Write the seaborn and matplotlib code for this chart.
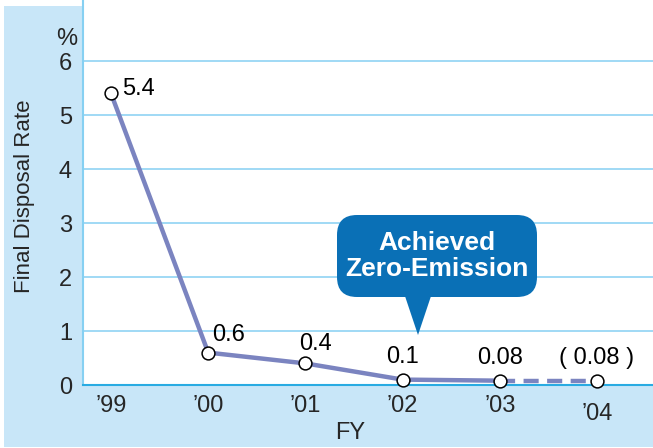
import matplotlib
matplotlib.use("Agg")
import matplotlib.pyplot as plt
import seaborn as sns
import pandas as pd
from matplotlib.patches import FancyBboxPatch, Polygon, Rectangle
from matplotlib.transforms import blended_transform_factory

# Fiscal-year final disposal rate (%)
years = ["\u201999", "\u201900", "\u201901", "\u201902", "\u201903", "\u201904"]
rates = [5.4, 0.6, 0.4, 0.1, 0.08, 0.08]
value_labels = ["5.4", "0.6", "0.4", "0.1", "0.08", "( 0.08 )"]
yticks = [0, 1, 2, 3, 4, 5, 6]

df = pd.DataFrame({"pos": range(len(years)), "year": years, "rate": rates})
actual = df.iloc[:5]
planned = df.iloc[4:]

sns.set_theme(style="white")
plt.rcParams["font.family"] = ["Liberation Sans", "DejaVu Sans"]

PANEL = "#C8E6F8"
GRID = "#86D0F2"
AXIS = "#29ABE2"
LINE = "#7B84C0"
CALLOUT = "#0A70B6"
FS = 16
NUM_FS = 17

fig = plt.figure(figsize=(6.53, 4.48), dpi=100)
fig.patch.set_facecolor("white")
# light-blue backing panel behind the axes labels
fig.patches.append(Rectangle((4 / 653, 1 / 448), 1 - 4 / 653, 441 / 448,
                             transform=fig.transFigure, facecolor=PANEL,
                             edgecolor="none", zorder=-10))

ax = fig.add_axes([83 / 653, 63 / 448, 570 / 653, 385 / 448])
ax.set_zorder(2)
ax.set_facecolor("white")

ax.set_xlim(-0.288, 5.576)
ax.set_ylim(0, 7.13)

for v in yticks[1:]:
    ax.axhline(v, color=GRID, lw=1.1, zorder=1)

sns.lineplot(data=actual, x="pos", y="rate", ax=ax, color=LINE, lw=3.2,
             zorder=3, legend=False)
sns.lineplot(data=planned, x="pos", y="rate", ax=ax, color=LINE, lw=3.2,
             zorder=3, legend=False, dashes=False, linestyle=(0, (3.4, 1.9)))
sns.scatterplot(data=df, x="pos", y="rate", ax=ax, s=85, color="white",
                edgecolor="black", linewidth=1.1, zorder=5, clip_on=False)

offsets = [(8, 3), (15, 13), (7, 14), (0, 16), (0, 16), (0, 16)]
aligns = ["left", "center", "center", "center", "center", "center"]
for (x, y, txt, off, ha) in zip(df["pos"], df["rate"], value_labels, offsets, aligns):
    ax.annotate(txt, (x, y), xytext=off, textcoords="offset points",
                ha=ha, va="center", fontsize=NUM_FS, color="black", zorder=6)

for side in ["top", "right"]:
    ax.spines[side].set_visible(False)
ax.spines["left"].set_color(GRID)
ax.spines["left"].set_linewidth(1.5)
ax.spines["bottom"].set_color(AXIS)
ax.spines["bottom"].set_linewidth(1.5)

ax.set_xticks(df["pos"])
ax.set_xticklabels(years, fontsize=NUM_FS)
ax.set_yticks(yticks)
ax.set_yticklabels([str(t) for t in yticks], fontsize=NUM_FS)
ax.tick_params(axis="both", length=0)
ax.tick_params(axis="x", pad=7)
ax.tick_params(axis="y", pad=8)
ax.xaxis.get_major_ticks()[5].set_pad(13)
ax.set_xlabel("")
ax.set_ylabel("")

yax = blended_transform_factory(ax.transAxes, ax.transData)
ax.text(-0.028, 6.4, "%", transform=yax, ha="center", va="center", fontsize=NUM_FS)
ax.text(-0.102, 0.49, "Final Disposal Rate", transform=ax.transAxes, rotation=90,
        ha="center", va="center", fontsize=FS)
ax.text(0.468, -0.125, "FY", transform=ax.transAxes, ha="center", va="center",
        fontsize=NUM_FS)

# callout bubble
bx0, bx1 = (337 - 83) / 570, (537 - 83) / 570
by0, by1 = (385 - 297) / 385, (385 - 215) / 385
bubble = FancyBboxPatch((bx0, by0), bx1 - bx0, by1 - by0,
                        boxstyle="round,pad=0,rounding_size=0.035",
                        transform=ax.transAxes, facecolor=CALLOUT,
                        edgecolor="none", zorder=7, mutation_aspect=570 / 385)
ax.add_patch(bubble)
pointer = Polygon([((404 - 83) / 570, by0 + 0.01), ((432 - 83) / 570, by0 + 0.01),
                   ((418 - 83) / 570, (385 - 335) / 385)],
                  closed=True, transform=ax.transAxes, facecolor=CALLOUT,
                  edgecolor="none", zorder=7)
ax.add_patch(pointer)
ax.text((bx0 + bx1) / 2, (by0 + by1) / 2, "Achieved\nZero-Emission",
        transform=ax.transAxes, ha="center", va="center", color="white",
        fontsize=19, fontweight="bold", linespacing=1.1, zorder=8)

fig.savefig("out.png", dpi=100)
